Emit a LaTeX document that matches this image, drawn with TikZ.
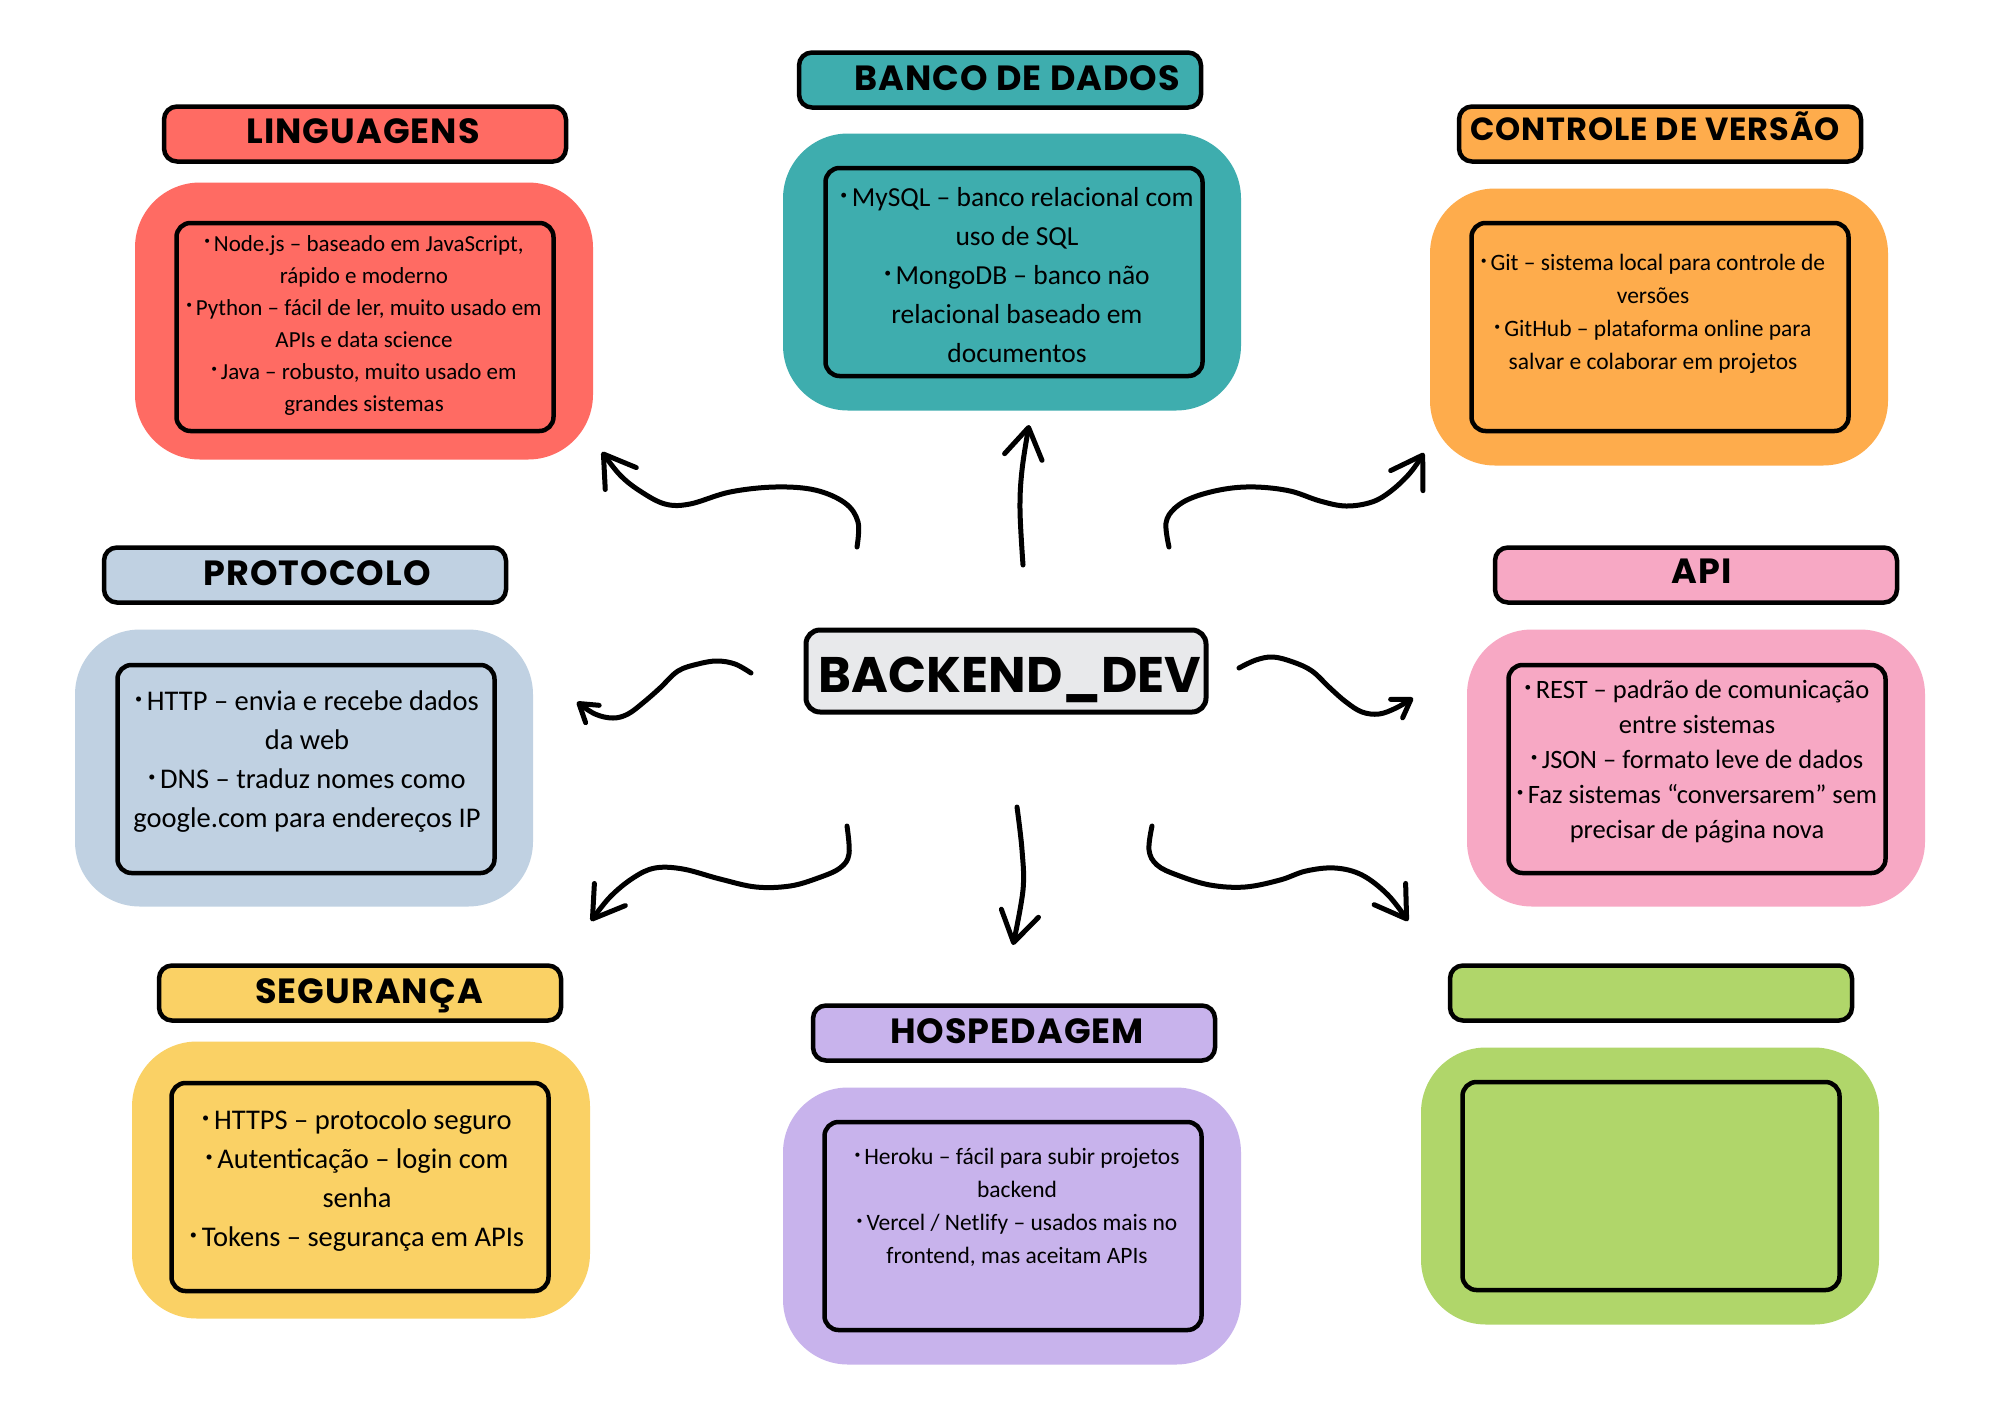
\documentclass[tikz,border=0pt]{standalone}
\usepackage{fontspec}
\usepackage{graphicx}
\setmainfont{Carlito}
\newfontfamily\titlefont{Poppins}[LetterSpace=3]
\newfontfamily\mainfont{Poppins}
\usetikzlibrary{arrows.meta}

\definecolor{linred}{HTML}{FF6B63}
\definecolor{banteal}{HTML}{3EADAE}
\definecolor{conorange}{HTML}{FEAC4C}
\definecolor{problue}{HTML}{C0D1E2}
\definecolor{apipink}{HTML}{F7A8C4}
\definecolor{segyellow}{HTML}{FAD165}
\definecolor{hoslilac}{HTML}{C8B3EC}
\definecolor{grngreen}{HTML}{B0D66A}
\definecolor{maingray}{HTML}{E8E9EB}

\newcommand{\bul}{\raisebox{0.55ex}{\scalebox{0.5}{•}}\,}

\begin{document}
\begin{tikzpicture}[x=1pt,y=-1pt,
    outerbox/.style={rounded corners=65pt,minimum width=458pt,minimum height=277pt,inner sep=0pt},
    innerbox/.style={draw,line width=4.5pt,rounded corners=14pt,minimum width=377pt,minimum height=208pt,inner sep=0pt},
    titlebox/.style={draw,line width=4.5pt,rounded corners=13pt,minimum width=402pt,minimum height=55pt,inner sep=0pt},
    titletext/.style={anchor=base,inner sep=0pt,font=\titlefont\bfseries\fontsize{35}{35}\selectfont},
    bodytext/.style={align=center,inner sep=0pt},
    arrow/.style={line width=5pt,line cap=round,line join=round,-{Straight Barb[length=30pt,width=38pt,round]}},
    smallarrow/.style={line width=5pt,line cap=round,line join=round,-{Straight Barb[length=17pt,width=22pt,round]}}]

        \fill[white] (0,0) rectangle (2000,1414);
        \useasboundingbox (0,0) rectangle (2000,1414);

        % colour panels
        \begin{scope}[every node/.style={outerbox}]
          \node[fill=linred]    (lin) at (364,321)  {};
          \node[fill=banteal]   (ban) at (1012,272) {};
          \node[fill=conorange] (con) at (1659,327) {};
          \node[fill=problue]   (pro) at (304,768)  {};
          \node[fill=apipink]   (api) at (1696,768) {};
          \node[fill=segyellow] (seg) at (361,1180) {};
          \node[fill=hoslilac]  (hos) at (1012,1226) {};
          \node[fill=grngreen]  (grn) at (1650,1186) {};
        \end{scope}

        % framed boxes inside the panels
        \begin{scope}[every node/.style={innerbox}]
          \node (lin-in) at (365,327)  {};
          \node (ban-in) at (1014,272) {};
          \node (con-in) at (1660,327) {};
          \node (pro-in) at (306,769)  {};
          \node (api-in) at (1697,769) {};
          \node (seg-in) at (360,1187) {};
          \node (hos-in) at (1013,1226) {};
          \node (grn-in) at (1651,1186) {};
        \end{scope}

        % title bars
        \begin{scope}[every node/.style={titlebox}]
          \node[fill=linred]    (lin-ti) at (365,134)  {};
          \node[fill=banteal]   (ban-ti) at (1000,80)  {};
          \node[fill=conorange] (con-ti) at (1660,134) {};
          \node[fill=problue]   (pro-ti) at (305,575)  {};
          \node[fill=apipink]   (api-ti) at (1696,575) {};
          \node[fill=segyellow] (seg-ti) at (360,993)  {};
          \node[fill=hoslilac]  (hos-ti) at (1014,1033) {};
          \node[fill=grngreen]  (grn-ti) at (1651,993) {};
        \end{scope}

        \begin{scope}[every node/.style={titletext}]
          \node (lin-tx) at (363,143)  {LINGUAGENS};
          \node (ban-tx) at (1017,90)  {BANCO DE DADOS};
          \node[font=\titlefont\bfseries\fontsize{32}{32}\selectfont] (con-tx) at (1655,140) {CONTROLE DE VERSÃO};
          \node (pro-tx) at (317,585)  {PROTOCOLO};
          \node (api-tx) at (1702,583) {API};
          \node (seg-tx) at (369,1003) {SEGURANÇA};
          \node (hos-tx) at (1017,1043) {HOSPEDAGEM};
        \end{scope}

        % texts of the boxes
        \begin{scope}[every node/.style={bodytext}]
          \node[font=\fontsize{23}{32}\selectfont] (lin-bd) at (364,325)
            {\bul Node.js – baseado em JavaScript,\\ rápido e moderno\\
             \bul Python – fácil de ler, muito usado em\\ APIs e data science\\
             \bul Java – robusto, muito usado em\\ grandes sistemas};
          \node[font=\fontsize{27.5}{39}\selectfont] (ban-bd) at (1017,275)
            {\bul MySQL – banco relacional com\\ uso de SQL\\
             \bul MongoDB – banco não\\ relacional baseado em\\ documentos};
          \node[font=\fontsize{23.5}{33}\selectfont] (con-bd) at (1653,314)
            {\bul Git – sistema local para controle de\\ versões\\
             \bul GitHub – plataforma online para\\ salvar e colaborar em projetos};
          \node[font=\fontsize{28.5}{39}\selectfont] (pro-bd) at (307,762)
            {\bul HTTP – envia e recebe dados\\ da web\\
             \bul DNS – traduz nomes como\\ google.com para endereços IP};
          \node[font=\fontsize{26.5}{35}\selectfont] (api-bd) at (1697,762)
            {\bul REST – padrão de comunicação\\ entre sistemas\\
             \bul JSON – formato leve de dados\\
             \bul Faz sistemas “conversarem” sem\\ precisar de página nova};
          \node[font=\fontsize{28.5}{39}\selectfont] (seg-bd) at (357,1181)
            {\bul HTTPS – protocolo seguro\\ \bul Autenticação – login com\\ senha\\
             \bul Tokens – segurança em APIs};
          \node[font=\fontsize{23.5}{33}\selectfont] (hos-bd) at (1017,1207)
            {\bul Heroku – fácil para subir projetos\\ backend\\
             \bul Vercel / Netlify – usados mais no\\ frontend, mas aceitam APIs};
        \end{scope}

        % centre
        \node[draw,fill=maingray,line width=5pt,rounded corners=14pt,
              minimum width=400pt,minimum height=82pt] (main) at (1006,671) {};
        \node[titletext,font=\mainfont\bfseries\fontsize{50}{50}\selectfont] (main-tx) at (1010,692) {BACKEND\_DEV};

        % arrow ends
        \coordinate (lin-s) at (857,547);  \coordinate (lin-t) at (602,452);
        \coordinate (ban-s) at (1023,565); \coordinate (ban-t) at (1029,425);
        \coordinate (con-s) at (1169,547); \coordinate (con-t) at (1424,453);
        \coordinate (pro-s) at (751,673);  \coordinate (pro-t) at (577,702);
        \coordinate (api-s) at (1239,668); \coordinate (api-t) at (1413,698);
        \coordinate (seg-s) at (847,826);  \coordinate (seg-t) at (591,921);
        \coordinate (hos-s) at (1017,807); \coordinate (hos-t) at (1013,945);
        \coordinate (grn-s) at (1152,826); \coordinate (grn-t) at (1408,921);

        \draw[arrow] plot[smooth,tension=0.6] coordinates {(lin-s) (858,522) (845,503) (815,490) (775,487)
          (730,492) (690,504) (665,504) (640,491) (620,475) (lin-t)};
        \draw[arrow] plot[smooth,tension=0.6] coordinates {(ban-s) (1020,510) (1022,470) (ban-t)};
        \draw[arrow] plot[smooth,tension=0.6] coordinates {(con-s) (1166,523) (1175,508) (1194,497) (1225,489)
          (1256,487) (1290,491) (1320,501) (1346,506) (1372,502) (1391,491) (1410,473) (con-t)};
        \draw[smallarrow] plot[smooth,tension=0.6] coordinates {(pro-s) (735,664) (717,661) (698,664) (678,671)
          (660,688) (644,702) (628,714) (613,718) (595,714) (pro-t)};
        \draw[smallarrow] plot[smooth,tension=0.6] coordinates {(api-s) (1256,660) (1273,657) (1293,662) (1312,671)
          (1330,688) (1346,702) (1362,712) (1379,714) (1396,708) (api-t)};
        \draw[arrow] plot[smooth,tension=0.6] coordinates {(seg-s) (849,854) (840,868) (818,878) (790,886)
          (756,887) (720,879) (683,869) (655,868) (633,878) (610,897) (seg-t)};
        \draw[arrow] plot[smooth,tension=0.6] coordinates {(hos-s) (1022,850) (1023,890) (hos-t)};
        \draw[arrow] plot[smooth,tension=0.6] coordinates {(grn-s) (1149,850) (1157,865) (1177,875) (1210,885)
          (1245,887) (1280,880) (1306,871) (1335,868) (1362,875) (1388,895) (grn-t)};

\end{tikzpicture}
\end{document}
